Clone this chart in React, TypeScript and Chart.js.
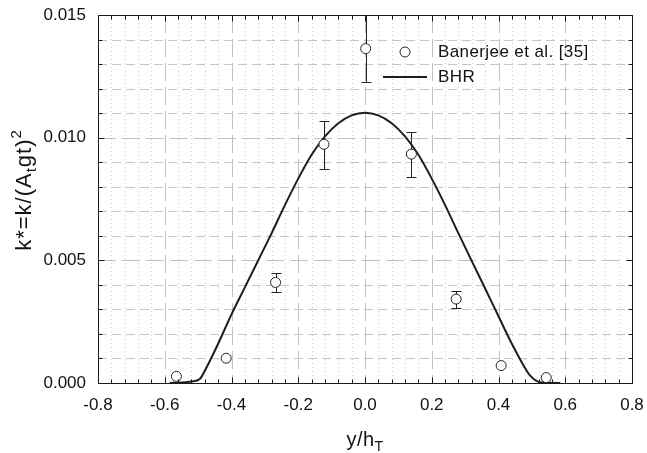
import React, { useEffect, useRef } from "react";
import { Chart, registerables } from "chart.js";

Chart.register(...registerables);

const FONT = "'Liberation Sans', Arial, Helvetica, sans-serif";

// Measured data (Banerjee et al. [35])
const expX = [-0.565, -0.416, -0.268, -0.123, 0.002, 0.139, 0.273, 0.408, 0.543];
const expY = [0.00027, 0.00101, 0.0041, 0.00973, 0.01363, 0.00933, 0.00342, 0.00071, 0.00022];
const errLow: (number | null)[] = [null, null, 0.0037, 0.00872, 0.01227, 0.00838, 0.00304, null, null];
const errHigh: (number | null)[] = [null, null, 0.0045, 0.01069, 0.015, 0.01024, 0.00375, null, null];

// BHR model curve
const bhrX = [-0.585, -0.55, -0.52, -0.495, -0.48, -0.44, -0.4, -0.36, -0.32, -0.28, -0.24, -0.2, -0.16, -0.12, -0.08, -0.04, 0, 0.04, 0.08, 0.12, 0.16, 0.2, 0.24, 0.28, 0.32, 0.36, 0.4, 0.44, 0.48, 0.495, 0.525, 0.585];
const bhrY = [0, 0.00002, 0.00006, 0.00016, 0.0005, 0.0016, 0.0028, 0.0039, 0.005, 0.0061, 0.00725, 0.00833, 0.0093, 0.01005, 0.01059, 0.01091, 0.01102, 0.01091, 0.01059, 0.01005, 0.0093, 0.00833, 0.00725, 0.0061, 0.00497, 0.00385, 0.00272, 0.0016, 0.0006, 0.0003, 0.00003, 0];

const xMajorTicks = [-0.8, -0.6, -0.4, -0.2, 0, 0.2, 0.4, 0.6, 0.8];
const yMajorTicks = [0, 0.005, 0.01, 0.015];
const xMinorDiv = 5;
const yMinorDiv = 5;

const legendLabels = ["Banerjee et al. [35]", "BHR"];

function minorValues(majors: number[], div: number) {
  const out: number[] = [];
  for (let i = 0; i < majors.length - 1; i++) {
    for (let k = 1; k < div; k++) out.push(majors[i] + ((majors[i + 1] - majors[i]) * k) / div);
  }
  return out;
}

type Run = { t: string; small?: boolean; shift?: number };

function drawRuns(ctx: CanvasRenderingContext2D, runs: Run[], size: number, cx: number, baseY: number, spacing: number) {
  const big = `${size}px ${FONT}`;
  const sm = `${Math.round(size * 0.68)}px ${FONT}`;
  (ctx as any).letterSpacing = `${spacing}px`;
  let w = 0;
  for (const r of runs) {
    ctx.font = r.small ? sm : big;
    w += ctx.measureText(r.t).width;
  }
  let x = cx - w / 2;
  ctx.textAlign = "left";
  ctx.textBaseline = "alphabetic";
  for (const r of runs) {
    ctx.font = r.small ? sm : big;
    ctx.fillText(r.t, x, baseY + (r.shift || 0));
    x += ctx.measureText(r.t).width;
  }
  (ctx as any).letterSpacing = "0px";
}

const decorPlugin = {
  id: "decor",
  beforeDatasetsDraw(chart: any) {
    const { ctx, chartArea: a } = chart;
    const xs = chart.scales.x;
    const ys = chart.scales.y;
    ctx.save();
    ctx.lineWidth = 1;
    const vline = (px: number) => {
      const p = Math.round(px) + 0.5;
      ctx.beginPath();
      ctx.moveTo(p, a.top);
      ctx.lineTo(p, a.bottom);
      ctx.stroke();
    };
    const hline = (py: number) => {
      const p = Math.round(py) + 0.5;
      ctx.beginPath();
      ctx.moveTo(a.left, p);
      ctx.lineTo(a.right, p);
      ctx.stroke();
    };
    ctx.strokeStyle = "#cfcfcf";
    ctx.setLineDash([1, 3]);
    minorValues(xMajorTicks, xMinorDiv).forEach((v) => vline(xs.getPixelForValue(v)));
    ctx.strokeStyle = "#c6c6c6";
    ctx.setLineDash([9, 5]);
    minorValues(yMajorTicks, yMinorDiv).forEach((v) => hline(ys.getPixelForValue(v)));
    ctx.strokeStyle = "#c0c0c0";
    ctx.setLineDash([18, 6]);
    xMajorTicks.slice(1, -1).forEach((v) => vline(xs.getPixelForValue(v)));
    yMajorTicks.slice(1, -1).forEach((v) => hline(ys.getPixelForValue(v)));
    ctx.restore();
  },
  beforeDatasetDraw(chart: any, args: any) {
    if (args.index !== 0) return;
    const { ctx } = chart;
    const xs = chart.scales.x;
    const ys = chart.scales.y;
    ctx.save();
    ctx.strokeStyle = "#222";
    ctx.lineWidth = 1;
    expX.forEach((xv, i) => {
      const lo = errLow[i];
      const hi = errHigh[i];
      if (lo == null || hi == null) return;
      const px = Math.round(xs.getPixelForValue(xv)) + 0.5;
      const pl = Math.round(ys.getPixelForValue(lo)) + 0.5;
      const ph = Math.round(ys.getPixelForValue(hi)) + 0.5;
      ctx.beginPath();
      ctx.moveTo(px, pl);
      ctx.lineTo(px, ph);
      ctx.moveTo(px - 5, pl);
      ctx.lineTo(px + 5, pl);
      ctx.moveTo(px - 5, ph);
      ctx.lineTo(px + 5, ph);
      ctx.stroke();
    });
    ctx.restore();
  },
  afterDatasetsDraw(chart: any) {
    const { ctx, chartArea: a } = chart;
    const xs = chart.scales.x;
    const ys = chart.scales.y;
    ctx.save();
    ctx.strokeStyle = "#1a1a1a";
    ctx.lineWidth = 1;
    ctx.setLineDash([]);
    const L = Math.round(a.left) + 0.5;
    const R = Math.round(a.right) + 0.5;
    const T = Math.round(a.top) + 0.5;
    const B = Math.round(a.bottom) + 0.5;
    ctx.strokeRect(L, T, R - L, B - T);
    ctx.beginPath();
    const xTick = (v: number, len: number) => {
      const p = Math.round(xs.getPixelForValue(v)) + 0.5;
      ctx.moveTo(p, B);
      ctx.lineTo(p, B - len);
      ctx.moveTo(p, T);
      ctx.lineTo(p, T + len);
    };
    const yTick = (v: number, len: number) => {
      const p = Math.round(ys.getPixelForValue(v)) + 0.5;
      ctx.moveTo(L, p);
      ctx.lineTo(L + len, p);
      ctx.moveTo(R, p);
      ctx.lineTo(R - len, p);
    };
    xMajorTicks.forEach((v) => xTick(v, 6));
    minorValues(xMajorTicks, xMinorDiv).forEach((v) => xTick(v, 4));
    yMajorTicks.forEach((v) => yTick(v, 6));
    minorValues(yMajorTicks, yMinorDiv).forEach((v) => yTick(v, 4));
    ctx.stroke();

    // legend
    const lx = 405;
    const ly1 = 52;
    const ly2 = 77;
    ctx.beginPath();
    ctx.arc(lx, ly1, 5, 0, Math.PI * 2);
    ctx.fillStyle = "#fff";
    ctx.fill();
    ctx.strokeStyle = "#222";
    ctx.stroke();
    ctx.beginPath();
    ctx.lineWidth = 2;
    ctx.strokeStyle = "#1e1e1e";
    ctx.moveTo(383, ly2);
    ctx.lineTo(427, ly2);
    ctx.stroke();
    ctx.fillStyle = "#111";
    ctx.font = `17px ${FONT}`;
    ctx.textAlign = "left";
    ctx.textBaseline = "middle";
    (ctx as any).letterSpacing = "0.4px";
    ctx.fillText(legendLabels[0], 438, ly1);
    ctx.fillText(legendLabels[1], 438, ly2);
    (ctx as any).letterSpacing = "0px";

    // x title
    const cx = (a.left + a.right) / 2;
    drawRuns(ctx, [{ t: "y/h" }, { t: "T", small: true, shift: 5 }], 20, cx, 446, 0.5);

    // y title (rotated)
    ctx.save();
    ctx.translate(31, 190);
    ctx.rotate(-Math.PI / 2);
    drawRuns(
      ctx,
      [
        { t: "k*=k/(A" },
        { t: "t", small: true, shift: 5 },
        { t: "gt)" },
        { t: "2", small: true, shift: -10 },
      ],
      22,
      0,
      0,
      1
    );
    ctx.restore();
    ctx.restore();
  },
};

export default function App() {
  const ref = useRef<HTMLCanvasElement | null>(null);
  useEffect(() => {
    if (!ref.current) return;
    const chart = new Chart(ref.current, {
      type: "scatter",
      data: {
        datasets: [
          {
            label: legendLabels[0],
            data: expX.map((x, i) => ({ x, y: expY[i] })),
            showLine: false,
            pointRadius: 5,
            pointBackgroundColor: "#ffffff",
            pointBorderColor: "#222",
            pointBorderWidth: 1,
          },
          {
            label: legendLabels[1],
            data: bhrX.map((x, i) => ({ x, y: bhrY[i] })),
            showLine: true,
            pointRadius: 0,
            borderColor: "#1e1e1e",
            borderWidth: 2,
            cubicInterpolationMode: "monotone",
            fill: false,
          },
        ],
      },
      options: {
        responsive: false,
        animation: false,
        events: [],
        layout: { padding: { top: 15, right: 15, left: 0, bottom: 0 } },
        plugins: { legend: { display: false }, tooltip: { enabled: false } },
        scales: {
          x: {
            type: "linear",
            min: -0.8,
            max: 0.8,
            afterBuildTicks: (s: any) => {
              s.ticks = xMajorTicks.map((v) => ({ value: v }));
            },
            afterFit: (s: any) => {
              s.height = 70;
              s.paddingLeft = 0;
              s.paddingRight = 0;
            },
            ticks: {
              callback: (v: any) => Number(v).toFixed(1),
              font: { size: 17, family: FONT },
              color: "#111",
              padding: 12,
              maxRotation: 0,
              autoSkip: false,
            },
            grid: { display: false, drawTicks: false },
            border: { display: false },
          },
          y: {
            type: "linear",
            min: 0,
            max: 0.015,
            afterBuildTicks: (s: any) => {
              s.ticks = yMajorTicks.map((v) => ({ value: v }));
            },
            afterFit: (s: any) => {
              s.width = 98;
              s.paddingTop = 0;
              s.paddingBottom = 0;
            },
            ticks: {
              callback: (v: any) => Number(v).toFixed(3),
              font: { size: 17, family: FONT },
              color: "#111",
              padding: 12,
              autoSkip: false,
            },
            grid: { display: false, drawTicks: false },
            border: { display: false },
          },
        },
      },
      plugins: [decorPlugin],
    } as any);
    return () => chart.destroy();
  }, []);
  return (
    <div style={{ position: "absolute", left: 0, top: 0, width: 647, height: 453, background: "#fff" }}>
      <canvas ref={ref} width={647} height={453} />
    </div>
  );
}
